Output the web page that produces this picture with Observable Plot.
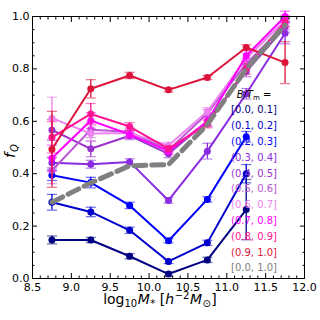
<!DOCTYPE html>
<html><head><meta charset="utf-8">
<script src="https://cdn.jsdelivr.net/npm/d3@7"></script>
<script src="https://cdn.jsdelivr.net/npm/@observablehq/plot@0.6"></script>
<style>body{margin:0;background:#fff}#chart{width:320px;height:320px}</style>
</head><body><div id="chart"></div>
<script>
const massBins = [8.75, 9.25, 9.75, 10.25, 10.75, 11.25, 11.75];
const binLabels = ["[0.0, 0.1]", "(0.1, 0.2]", "(0.2, 0.3]", "(0.3, 0.4]", "(0.4, 0.5]", "(0.5, 0.6]", "(0.6, 0.7]", "(0.7, 0.8]", "(0.8, 0.9]", "(0.9, 1.0]"];
const allLabel = "[0.0, 1.0]";
const binColors = ["#000080", "#0000CD", "#0000FF", "#8A2BE2", "#9932CC", "#BA55D3", "#EE82EE", "#FF00FF", "#FF1493", "#DC143C"];
const allColor = "#808080";

const fq_00_01 = [0.147, 0.147, 0.085, 0.017, 0.071, 0.263, null];
const fq_01_02 = [0.291, 0.254, 0.184, 0.065, 0.136, 0.400, null];
const fq_02_03 = [0.394, 0.366, 0.279, 0.144, 0.302, 0.541, null];
const fq_03_04 = [0.442, 0.436, 0.445, 0.298, 0.486, 0.705, 0.936];
const fq_04_05 = [0.567, 0.495, 0.545, 0.476, 0.600, 0.790, 0.960];
const fq_05_06 = [0.412, 0.568, 0.560, 0.490, 0.630, 0.820, 0.970];
const fq_06_07 = [0.612, 0.553, 0.555, 0.508, 0.637, 0.840, 0.985];
const fq_07_08 = [0.459, 0.603, 0.550, 0.486, 0.600, 0.850, 1.000];
const fq_08_09 = [0.539, 0.628, 0.580, 0.495, 0.590, 0.800, 0.980];
const fq_09_10 = [0.493, 0.724, 0.775, 0.720, 0.767, 0.882, 0.824];
const fq_all   = [0.291, 0.365, 0.430, 0.435, 0.588, 0.800, 0.967];

const err_00_01 = [0.015, 0.010, 0.010, 0.008, 0.010, 0.115, null];
const err_01_02 = [0.030, 0.018, 0.012, 0.008, 0.010, 0.035, null];
const err_02_03 = [0.020, 0.020, 0.012, 0.008, 0.010, 0.020, null];
const err_03_04 = [0.020, 0.015, 0.012, 0.010, 0.030, 0.020, 0.040];
const err_04_05 = [0.040, 0.030, 0.015, 0.015, 0.020, 0.020, 0.020];
const err_05_06 = [0.050, 0.030, 0.015, 0.012, 0.015, 0.020, 0.020];
const err_06_07 = [0.080, 0.030, 0.015, 0.012, 0.015, 0.020, 0.020];
const err_07_08 = [0.050, 0.030, 0.015, 0.012, 0.015, 0.020, 0.020];
const err_08_09 = [0.060, 0.040, 0.015, 0.012, 0.015, 0.020, 0.020];
const err_09_10 = [0.145, 0.035, 0.012, 0.008, 0.008, 0.010, 0.080];

const fqSeries = [fq_00_01, fq_01_02, fq_02_03, fq_03_04, fq_04_05, fq_05_06, fq_06_07, fq_07_08, fq_08_09, fq_09_10];
const errSeries = [err_00_01, err_01_02, err_02_03, err_03_04, err_04_05, err_05_06, err_06_07, err_07_08, err_08_09, err_09_10];

const xMajor = d3.range(8.5, 12.001, 0.5);
const xMinor = d3.range(8.5, 12.001, 0.1).filter(v => Math.abs(v * 2 - Math.round(v * 2)) > 1e-6);
const yMajor = d3.range(0, 1.001, 0.2);
const yMinor = d3.range(0, 1.001, 0.05).filter(v => Math.abs(v * 5 - Math.round(v * 5)) > 1e-6);

const capHalf = 0.065;
const marks = [];
fqSeries.forEach((vals, i) => {
  const rows = massBins.map((x, j) => ({x, y: vals[j], e: errSeries[i][j]})).filter(d => d.y != null);
  marks.push(Plot.line(rows, {x: "x", y: "y", stroke: binColors[i], strokeWidth: 2}));
  marks.push(Plot.ruleX(rows, {x: "x", y1: d => d.y - d.e, y2: d => d.y + d.e, stroke: binColors[i], strokeWidth: 1.3}));
  marks.push(Plot.link(rows, {x1: d => d.x - capHalf, x2: d => d.x + capHalf, y1: d => d.y + d.e, y2: d => d.y + d.e, stroke: binColors[i], strokeOpacity: 0.55, strokeWidth: 1.3}));
  marks.push(Plot.link(rows, {x1: d => d.x - capHalf, x2: d => d.x + capHalf, y1: d => d.y - d.e, y2: d => d.y - d.e, stroke: binColors[i], strokeOpacity: 0.55, strokeWidth: 1.3}));
  marks.push(Plot.dot(rows, {x: "x", y: "y", fill: binColors[i], r: 3.5}));
});
const allRows = massBins.map((x, j) => ({x, y: fq_all[j]}));
marks.push(Plot.line(allRows, {x: "x", y: "y", stroke: allColor, strokeWidth: 5, strokeDasharray: "12,6"}));

const noText = () => "";
marks.push(
  Plot.axisX({ticks: xMajor, tickSize: -5, tickPadding: 10, tickFormat: d3.format(".1f"), label: null}),
  Plot.axisX({ticks: xMinor, tickSize: -2.5, tickFormat: noText, label: null}),
  Plot.axisX({anchor: "top", ticks: xMajor, tickSize: -5, tickFormat: noText, label: null}),
  Plot.axisX({anchor: "top", ticks: xMinor, tickSize: -2.5, tickFormat: noText, label: null}),
  Plot.axisY({ticks: yMajor, tickSize: -5, tickPadding: 8, tickFormat: d3.format(".1f"), label: null}),
  Plot.axisY({ticks: yMinor, tickSize: -2.5, tickFormat: noText, label: null}),
  Plot.axisY({anchor: "right", ticks: yMajor, tickSize: -5, tickFormat: noText, label: null}),
  Plot.axisY({anchor: "right", ticks: yMinor, tickSize: -2.5, tickFormat: noText, label: null}),
  Plot.frame({stroke: "#000", strokeWidth: 1})
);

const chart = Plot.plot({
  width: 320, height: 320,
  marginLeft: 32, marginRight: 16, marginTop: 16, marginBottom: 42,
  x: {domain: [8.5, 12]},
  y: {domain: [0, 1]},
  style: {fontFamily: "DejaVu Sans", fontSize: "11px", color: "#000", background: "#fff"},
  marks
});
document.getElementById("chart").append(chart);

const svg = d3.select(chart);
svg.selectAll("text").filter(function() { return this.textContent === ""; }).remove();
// y label
const yl = svg.append("text").attr("transform", "translate(15,151) rotate(-90)")
  .attr("text-anchor", "middle").attr("font-size", 14.5).attr("font-family", "DejaVu Sans").attr("fill", "#000");
yl.append("tspan").attr("font-style", "italic").text("f");
yl.append("tspan").attr("font-style", "italic").attr("font-size", 10).attr("dx", 1).attr("dy", 3).text("Q");
// x label
const xl = svg.append("text").attr("x", 160).attr("y", 304)
  .attr("text-anchor", "middle").attr("font-size", 14).attr("font-family", "DejaVu Sans").attr("fill", "#000");
xl.append("tspan").text("log");
xl.append("tspan").attr("font-size", 10).attr("dy", 3).text("10");
xl.append("tspan").attr("font-style", "italic").attr("dx", 0.5).attr("dy", -3).text("M");
xl.append("tspan").attr("font-size", 10).attr("dx", 0.5).attr("dy", 3).text("*");
xl.append("tspan").attr("dy", -3).text(" [");
xl.append("tspan").attr("font-style", "italic").text("h");
xl.append("tspan").attr("font-size", 10).attr("dx", 0.5).attr("dy", -5).text("−2");
xl.append("tspan").attr("font-style", "italic").attr("dx", 0.5).attr("dy", 5).text("M");
xl.append("tspan").attr("font-size", 10).attr("dx", 0.5).attr("dy", 3).text("⊙");
xl.append("tspan").attr("dx", 0.5).attr("dy", -3).text("]");
// legend
const lx = 254, ly0 = 94, lstep = 15.8;
const lt = svg.append("text").attr("x", lx).attr("y", ly0).attr("dy", "0.35em")
  .attr("font-size", 10).attr("font-family", "DejaVu Sans").attr("fill", "#000");
lt.append("tspan").attr("font-style", "italic").text("B/T");
lt.append("tspan").attr("font-size", 7).attr("dy", 2).text("m");
lt.append("tspan").attr("dy", -2).text(" =");
binLabels.concat([allLabel]).forEach((lab, i) => {
  svg.append("text").attr("x", lx).attr("y", ly0 + lstep * (i + 1)).attr("dy", "0.35em")
    .attr("font-size", 10).attr("font-family", "DejaVu Sans")
    .attr("fill", i < binColors.length ? binColors[i] : allColor).text(lab);
});
</script>
</body></html>
